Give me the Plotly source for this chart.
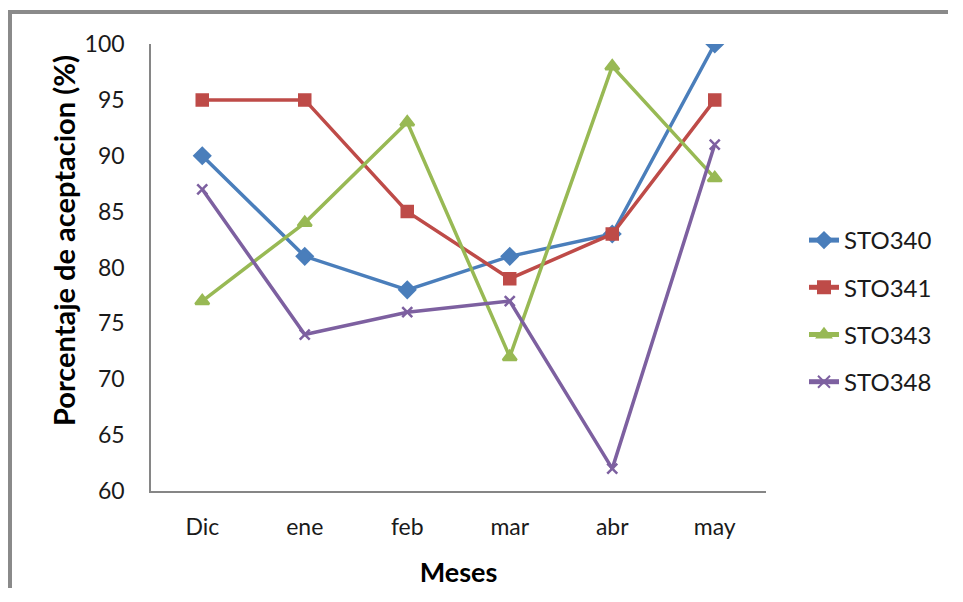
import plotly.graph_objects as go

meses = ["Dic", "ene", "feb", "mar", "abr", "may"]
sto340 = [90, 81, 78, 81, 83, 100]
sto341 = [95, 95, 85, 79, 83, 95]
sto343 = [77, 84, 93, 72, 98, 88]
sto348 = [87, 74, 76, 77, 62, 91]

series = [
    ("STO340", sto340, "#4A7EBB", "diamond", 12),
    ("STO341", sto341, "#BE4B48", "square", 11),
    ("STO343", sto343, "#98B954", "triangle-up", 12),
    ("STO348", sto348, "#7D60A0", "x-thin", 10),
]

fig = go.Figure()
for name, vals, color, sym, size in series:
    fig.add_trace(go.Scatter(
        x=meses, y=vals, name=name, mode="lines+markers",
        legendgroup=name,
        line=dict(color=color, width=3.5),
        marker=dict(symbol=sym, size=size, color=color,
                    line=dict(color=color, width=2.5)),
    ))

FONT = "Lato"
W, H = 940, 580  # keep inside the window (page body has 8px margin)
L, T = 143, 36
R = W - 758
B = H - 483
pw, ph = W - L - R, H - T - B


def px(x):  # page pixel x -> paper
    return (x - 8 - L) / pw


def py(y):  # page pixel y -> paper
    return 1 - (y - 8 - T) / ph


fig.update_layout(
    width=W, height=H,
    margin=dict(l=L, r=R, t=T, b=B, autoexpand=False),
    paper_bgcolor="white", plot_bgcolor="white",
    font=dict(family=FONT, size=23, color="#1a1a1a"),
    showlegend=True,
    legend=dict(x=px(804), y=py(311), xanchor="left", yanchor="middle",
                font=dict(size=24), tracegroupgap=13,
                itemsizing="constant"),
    xaxis=dict(
        type="category", range=[-0.5, 5.5], automargin=False,
        showline=True, linecolor="#868686", linewidth=1.5,
        showgrid=False, ticks="", ticklabelstandoff=15,
        tickfont=dict(size=23),
        title=dict(text="<b>Meses</b>", font=dict(size=27, color="#000"), standoff=30),
        zeroline=False,
    ),
    yaxis=dict(
        range=[60, 100], dtick=5, automargin=False,
        showline=True, linecolor="#868686", linewidth=1.5,
        showgrid=False, ticks="", ticklabelstandoff=20,
        tickfont=dict(size=23),
        zeroline=False,
    ),
)

fig.add_annotation(
    text="<b>Porcentaje de aceptacion (%)</b>", textangle=-90,
    xref="paper", yref="paper", x=px(63), y=py(241),
    xanchor="center", yanchor="middle", showarrow=False,
    font=dict(size=29, color="#000", family=FONT),
)

# outer chart border (Excel chart area frame)
fig.add_shape(type="rect", xref="paper", yref="paper",
              x0=px(8), x1=px(12), y0=py(700), y1=py(10),
              fillcolor="#8a8a8a", line=dict(width=0))
fig.add_shape(type="rect", xref="paper", yref="paper",
              x0=px(8), x1=px(1000), y0=py(14), y1=py(10),
              fillcolor="#8a8a8a", line=dict(width=0))

fig.write_html("out.html", config={"displayModeBar": False})
